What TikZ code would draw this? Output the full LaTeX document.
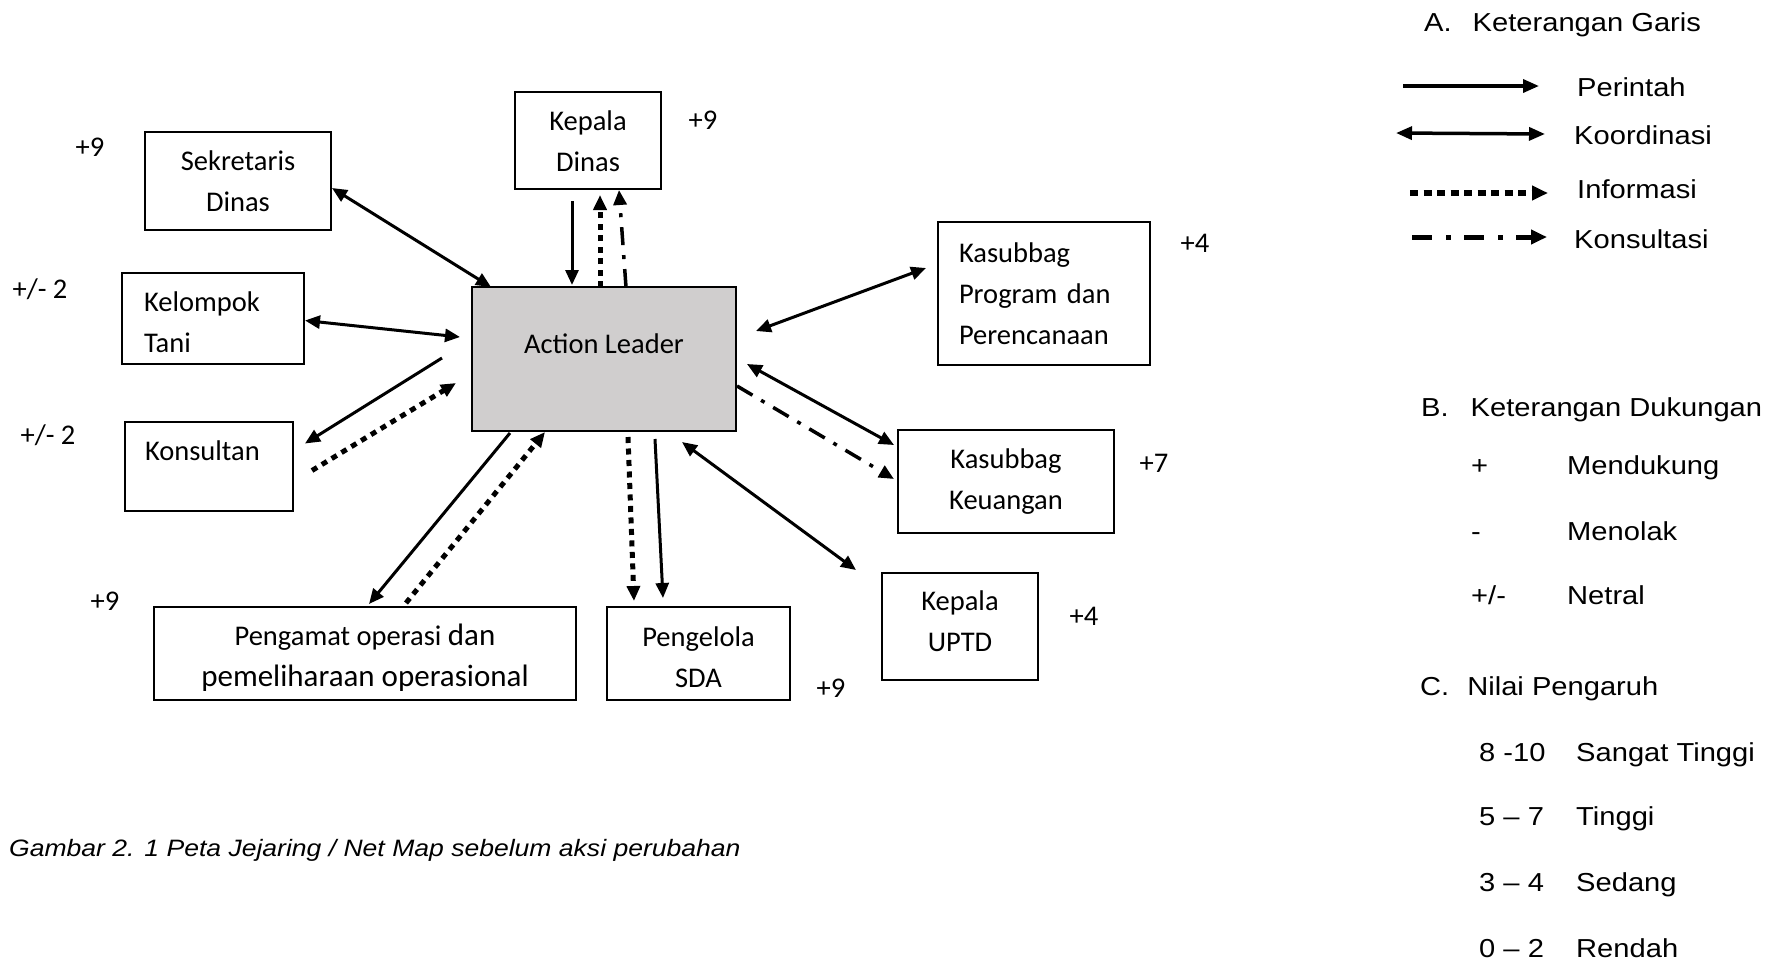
\documentclass[tikz,border=0pt]{standalone}
\usepackage{fontspec}
\newfontfamily\boxfont{Carlito}
\newfontfamily\legfont[FakeStretch=1.12]{Liberation Sans}
\usetikzlibrary{arrows.meta,calc}
\begin{document}
\begin{tikzpicture}[x=1pt,y=-1pt,
  box/.style={draw, line width=2pt, inner sep=0pt, outer sep=0pt, align=center,
    font=\boxfont\fontsize{28.5}{41}\selectfont, anchor=north west},
  lbox/.style={box, align=left},
  num/.style={font=\boxfont\fontsize{28.5}{34}\selectfont, inner sep=0pt, text height=18.4pt, text depth=0pt},
  leg/.style={font=\legfont\fontsize{26}{30}\selectfont, inner sep=0pt, anchor=west, text height=18.6pt, text depth=0pt},
  perintah/.style={line width=3pt, -{Triangle[length=15pt,width=13pt]}},
  koord/.style={line width=3pt, {Triangle[length=15pt,width=13pt]}-{Triangle[length=15pt,width=13pt]}},
  info/.style={line width=5pt, dash pattern=on 6pt off 5.5pt, -{Triangle[length=15pt,width=13pt]}},
  konsul/.style={line width=3.5pt, dash pattern=on 18pt off 10pt on 4pt off 10pt, -{Triangle[length=15pt,width=13pt]}},
]
\fill[white] (0,0) rectangle (1778,962);
\useasboundingbox (0,0) rectangle (1778,962);

% boxes
\node[box, minimum width=146pt, minimum height=97pt] (kd) at (515,92) {\rule{0pt}{22pt}Kepala\\Dinas};
\node[box, minimum width=186pt, minimum height=98pt] (sek) at (145,132) {Sekretaris\\Dinas};
\node[lbox, minimum width=182pt, minimum height=91pt, text width=138pt, inner xsep=22pt] (kel) at (122,273) {\rule{0pt}{28pt}Kelompok\\Tani};
\node[lbox, minimum width=168pt, minimum height=89pt, text width=128pt, inner xsep=20pt] (kons) at (125,422) {\rule{0pt}{28pt}Konsultan\\~};
\node[box, minimum width=264pt, minimum height=144pt, fill={rgb,255:red,208;green,206;blue,206}] (al) at (472,287) {Action Leader\\[-10pt]~};
\node[lbox, minimum width=212pt, minimum height=143pt, text width=170pt, inner xsep=21pt] (prog) at (938,222) {Kasubbag\\Program dan\\Perencanaan};
\node[box, minimum width=216pt, minimum height=103pt] (keu) at (898,430) {Kasubbag\\Keuangan};
\node[box, minimum width=156pt, minimum height=107pt] (uptd) at (882,573) {Kepala\\UPTD\rule[-10pt]{0pt}{10pt}};
\node[box, minimum width=422pt, minimum height=93pt] (peng) at (154,607) {\rule{0pt}{30pt}Pengamat operasi {\fontsize{31}{41}\selectfont dan}\\{\fontsize{31}{41}\selectfont pemeliharaan operasional}};
\node[box, minimum width=183pt, minimum height=93pt] (sda) at (607,607) {\rule{0pt}{28pt}Pengelola\\SDA};

% values
\node[num] (v1) at (703,120) {+9};
\node[num] (v2) at (90,147) {+9};
\node[num] (v3) at (40,289) {+/- 2};
\node[num] (v4) at (48,435) {+/- 2};
\node[num] (v5) at (105,601) {+9};
\node[num] (v6) at (831,688) {+9};
\node[num] (v7) at (1195,243) {+4};
\node[num] (v8) at (1154,463) {+7};
\node[num] (v9) at (1084,616) {+4};

% connectors
\draw[perintah] ($(kd.south)+(-16,12)$) -- ($(al.north)+(-32,-2)$);
\draw[info] ($(al.north)+(-4,0)$) -- ($(kd.south)+(12,6)$);
\draw[konsul] ($(al.north)+(22,0)$) -- ($(kd.south)+(31,1)$);
\draw[koord] ($(sek.south east)+(1,-42)$) -- ($(al.north west)+(19,0)$);
\draw[koord] ($(kel.east)+(1,2)$) -- ($(al.west)+(-12,-22)$);
\draw[perintah] ($(al.west)+(-30,-1)$) -- ($(kons.east)+(12,-23)$);
\draw[info] ($(kons.east)+(19,4)$) -- ($(al.west)+(-16,24)$);
\draw[perintah] ($(al.south west)+(38,2)$) -- ($(peng.north)+(4,-3)$);
\draw[info] ($(peng.north)+(41,-4)$) -- ($(al.south west)+(73,1)$);
\draw[info] ($(al.south)+(24,6)$) -- ($(sda.north west)+(27,-6)$);
\draw[perintah] ($(al.south)+(51,8)$) -- ($(sda.north west)+(56,-9)$);
\draw[koord] ($(uptd.north west)+(-26,-3)$) -- ($(al.south east)+(-54,11)$);
\draw[koord] ($(keu.north west)+(-4,15)$) -- ($(al.east)+(11,5)$);
\draw[konsul] ($(al.east)+(1,27)$) -- ($(keu.west)+(-4,-2.5)$);
\draw[koord] ($(prog.west)+(-12,-25.5)$) -- ($(al.east)+(20,-28)$);

% caption
\node[leg, font=\legfont\itshape\fontsize{23.7}{28}\selectfont, text height=17pt] (cap) at (9,848) {Gambar 2. 1 Peta Jejaring / Net Map sebelum aksi perubahan};

% legend A
\node[leg] (ha) at (1424,22) {A.\hspace{21pt}Keterangan Garis};
\coordinate (lp1) at (1403,86); \coordinate (lp2) at (1539,86);
\coordinate (lk1) at (1396,133); \coordinate (lk2) at (1545,134);
\coordinate (li1) at (1410,193); \coordinate (li2) at (1548,193);
\coordinate (lc1) at (1412,237); \coordinate (lc2) at (1547,237);
\draw[line width=3.5pt, -{Triangle[length=16pt,width=13pt]}] (lp1) -- (lp2);
\draw[line width=3.5pt, {Triangle[length=16pt,width=13pt]}-{Triangle[length=16pt,width=13pt]}] (lk1) -- (lk2);
\draw[line width=6pt, dash pattern=on 8pt off 5.5pt, -{Triangle[length=16pt,width=14pt]}] (li1) -- (li2);
\draw[line width=5pt, dash pattern=on 20pt off 14pt on 5pt off 13pt, -{Triangle[length=16pt,width=14pt]}] (lc1) -- (lc2);
\node[leg] (tp) at (1577,87) {Perintah};
\node[leg] (tk) at (1574,135) {Koordinasi};
\node[leg] (ti) at (1577,189) {Informasi};
\node[leg] (tc) at (1574,239) {Konsultasi};

% legend B
\node[leg] (hb) at (1421,407) {B.\hspace{22pt}Keterangan Dukungan};
\node[leg] (b1s) at (1471,465) {+};
\node[leg] (b1t) at (1567,465) {Mendukung};
\node[leg] (b2s) at (1471,531) {-};
\node[leg] (b2t) at (1567,531) {Menolak};
\node[leg] (b3s) at (1471,595) {+/-};
\node[leg] (b3t) at (1567,595) {Netral};

% legend C
\node[leg] (hc) at (1420,686) {C.\hspace{18pt}Nilai Pengaruh};
\node[leg] (c1s) at (1479,752) {8 -10};
\node[leg] (c1t) at (1576,752) {Sangat Tinggi};
\node[leg] (c2s) at (1479,816) {5 – 7};
\node[leg] (c2t) at (1576,816) {Tinggi};
\node[leg] (c3s) at (1479,882) {3 – 4};
\node[leg] (c3t) at (1576,882) {Sedang};
\node[leg] (c4s) at (1479,948) {0 – 2};
\node[leg] (c4t) at (1576,948) {Rendah};
\end{tikzpicture}
\end{document}
